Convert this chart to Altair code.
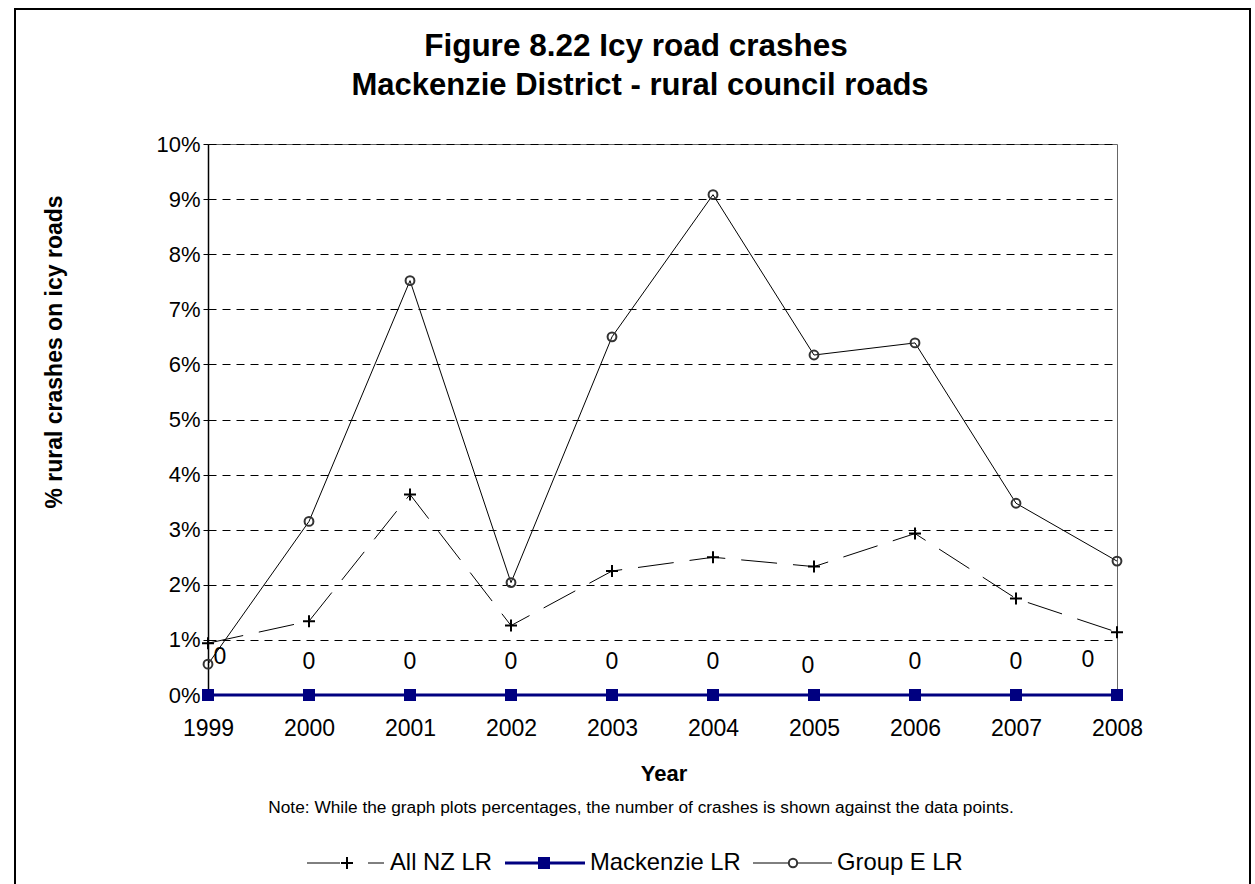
import altair as alt
import pandas as pd

# ---- data -------------------------------------------------------------
years = [1999, 2000, 2001, 2002, 2003, 2004, 2005, 2006, 2007, 2008]
all_nz_pct = [0.94, 1.34, 3.64, 1.26, 2.25, 2.50, 2.33, 2.93, 1.75, 1.14]
mackenzie_pct = [0, 0, 0, 0, 0, 0, 0, 0, 0, 0]
group_e_pct = [0.56, 3.15, 7.52, 2.04, 6.50, 9.08, 6.17, 6.39, 3.48, 2.43]
mackenzie_crashes = [0, 0, 0, 0, 0, 0, 0, 0, 0, 0]

# pixel nudges for the crash-count labels
label_dx = [12, 0, 0, 0, 0, 0, -6, 0, 0, -29]
label_dy = [-5, 0, 0, 0, 0, 0, 4, 0, 0, -2]

# ---- layout -----------------------------------------------------------
W, H = 909, 551
PAD = {"left": 208, "top": 144, "right": 138, "bottom": 189}
FONT = "Liberation Sans"

df = pd.DataFrame({
    "year": years,
    "all_nz": all_nz_pct,
    "mack": mackenzie_pct,
    "group_e": group_e_pct,
    "count": mackenzie_crashes,
    "ldx": label_dx,
    "ldy": label_dy,
})

x_scale = alt.Scale(domain=[years[0], years[-1]], nice=False, zero=False)
y_scale = alt.Scale(domain=[0, 10], nice=False)

x_axis = alt.Axis(
    values=years, format="d", title=None, grid=False, domain=False,
    ticks=True, tickSize=5, tickColor="black", tickWidth=1,
    labelFont=FONT, labelFontSize=23, labelColor="black", labelPadding=17,
    labelFlush=False, labelOverlap=False, labelBound=False,
)
y_axis = alt.Axis(
    values=list(range(0, 11)), labelExpr="datum.value + '%'", title=None,
    grid=True, gridColor="black", gridDash=[8, 6], gridWidth=1,
    domain=True, domainColor="black", domainWidth=1.5,
    ticks=True, tickSize=5, tickColor="black", tickWidth=1,
    labelFont=FONT, labelFontSize=22, labelColor="black", labelPadding=3,
    labelFlush=False, labelOverlap=False, labelBound=False,
)

base = alt.Chart(df)


def xy(xfield, yfield):
    return dict(
        x=alt.X(f"{xfield}:Q", scale=x_scale, axis=x_axis),
        y=alt.Y(f"{yfield}:Q", scale=y_scale, axis=y_axis),
    )


plus_path = "M-1,0H1M0,-1V1"

group_e_line = base.mark_line(color="black", strokeWidth=1).encode(**xy("year", "group_e"))
group_e_pts = base.mark_point(
    shape="circle", filled=False, stroke="#333333", strokeWidth=2, size=78, opacity=1
).encode(**xy("year", "group_e"))

all_nz_line = base.mark_line(color="black", strokeWidth=1, strokeDash=[36, 16]).encode(**xy("year", "all_nz"))
all_nz_pts = base.mark_point(
    shape=plus_path, filled=False, stroke="black", strokeWidth=2, size=144, opacity=1
).encode(**xy("year", "all_nz"))

mack_line = base.mark_line(color="#000080", strokeWidth=3).encode(**xy("year", "mack"))
mack_pts = base.mark_point(
    shape="square", filled=True, color="#000080", size=144, opacity=1
).encode(**xy("year", "mack"))

count_labels = base.transform_calculate(
    lx=f"datum.year + datum.ldx * {years[-1] - years[0]} / {W}",
    ly=f"datum.mack - datum.ldy * 10 / {H}",
).mark_text(font=FONT, fontSize=23, color="black", baseline="middle", dy=-33).encode(
    **xy("lx", "ly"),
    text=alt.Text("count:Q"),
)


def label(text, x, y, size, bold=False, angle=0, align="center", baseline="alphabetic"):
    kw = dict(font=FONT, fontSize=size, color="black", align=align, baseline=baseline)
    if bold:
        kw["fontWeight"] = "bold"
    if angle:
        kw["angle"] = angle
    return alt.Chart(pd.DataFrame({"t": [text]})).mark_text(**kw).encode(
        x=alt.value(x), y=alt.value(y), text="t:N"
    )


# outer frame of the whole figure
frame = alt.Chart(pd.DataFrame({"a": [0]})).mark_rect(
    filled=False, stroke="black", strokeWidth=2
).encode(x=alt.value(15 - PAD["left"]), x2=alt.value(1250 - PAD["left"]),
         y=alt.value(9 - PAD["top"]), y2=alt.value(900 - PAD["top"]))

title1 = label("Figure 8.22 Icy road crashes", 636 - PAD["left"], 56 - PAD["top"], 31.5, bold=True)
title2 = label("Mackenzie District - rural council roads", 640 - PAD["left"], 95 - PAD["top"], 31, bold=True)
y_title = label("% rural crashes on icy roads", 62 - PAD["left"], 352 - PAD["top"], 23, bold=True, angle=270)
x_title = label("Year", 664 - PAD["left"], 781 - PAD["top"], 22, bold=True)
note = label(
    "Note: While the graph plots percentages, the number of crashes is shown against the data points.",
    641 - PAD["left"], 813 - PAD["top"], 17.3,
)

# ---- legend -----------------------------------------------------------
LY = 863 - PAD["top"]
one = pd.DataFrame({"a": [0]})


def seg(x1, x2, color, width, dash=None):
    kw = dict(color=color, strokeWidth=width)
    if dash:
        kw["strokeDash"] = dash
    return alt.Chart(one).mark_rule(**kw).encode(
        x=alt.value(x1 - PAD["left"]), x2=alt.value(x2 - PAD["left"]), y=alt.value(LY)
    )


def sym(x, **kw):
    return alt.Chart(one).mark_point(opacity=1, **kw).encode(
        x=alt.value(x - PAD["left"]), y=alt.value(LY)
    )


LEG_FS = 23.8
legend = [
    seg(307, 340, "black", 1),
    sym(347, shape=plus_path, filled=False, stroke="black", strokeWidth=2, size=144),
    seg(368, 384, "black", 1),
    label("All NZ LR", 390 - PAD["left"], LY, LEG_FS, align="left", baseline="middle"),
    seg(505, 585, "#000080", 3),
    sym(544, shape="square", filled=True, color="#000080", size=144),
    label("Mackenzie LR", 590 - PAD["left"], LY, LEG_FS, align="left", baseline="middle"),
    seg(753, 832, "black", 1),
    sym(793, shape="circle", filled=True, fill="white", stroke="#333333", strokeWidth=2, size=70),
    label("Group E LR", 837 - PAD["left"], LY, LEG_FS, align="left", baseline="middle"),
]

chart = alt.layer(
    frame,
    group_e_line, all_nz_line, mack_line,
    group_e_pts, all_nz_pts, mack_pts,
    count_labels,
    title1, title2, y_title, x_title, note,
    *legend,
).properties(
    width=W, height=H,
    autosize=alt.AutoSizeParams(type="none"),
    padding=PAD,
    background="white",
).configure_view(
    stroke="#666666", strokeWidth=1
)

chart.save("out.html", embed_options={"renderer": "svg", "actions": False})
